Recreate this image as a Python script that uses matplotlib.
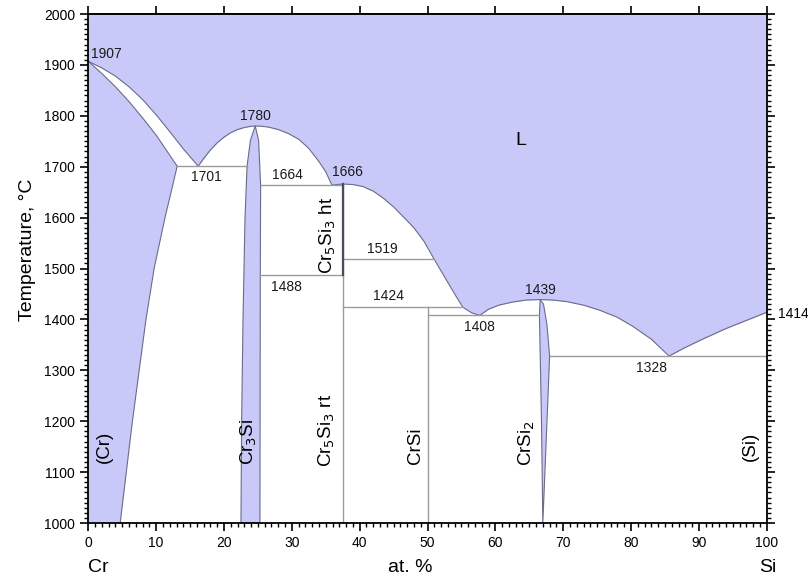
import matplotlib
matplotlib.use('Agg')
import matplotlib.pyplot as plt
import numpy as np

plt.rcParams['font.family'] = ['Liberation Sans', 'DejaVu Sans']

# Cr-Si phase diagram
# liquidus pieces (at.% Si, degC)
liq_cr_x = [0, 2, 4, 6, 8, 10, 12, 14, 16.2]
liq_cr_t = [1907, 1894, 1878, 1857, 1832, 1802, 1769, 1735, 1701]
liq_cr3si_x = [16.2, 17, 18, 19, 20, 21, 22, 23, 24, 24.6, 25.5, 26.5, 28, 29.5, 31, 32.5, 34, 35, 35.9, 37.5]
liq_cr3si_t = [1701, 1716, 1733, 1747, 1758, 1767, 1773, 1777, 1779.5, 1780, 1779.5, 1778, 1773, 1765, 1754, 1736, 1710, 1690, 1664, 1666]
liq_cr5si3_x = [37.5, 39, 40.5, 42, 43.5, 45, 46.4, 48, 49.5, 50.9, 52.8, 54, 55.2, 56.5, 57.7]
liq_cr5si3_t = [1666, 1665, 1661, 1652, 1638, 1621, 1602, 1580, 1553, 1520, 1477, 1450, 1424, 1413, 1408]
liq_crsi2a_x = [57.7, 59.0, 60.5, 62.5, 64.5, 66.6]
liq_crsi2a_t = [1408, 1420, 1428, 1434, 1438, 1439]
liq_crsi2b_x = [66.6, 68.5, 70.5, 73.0, 75.4, 78.0, 80.3, 83.0, 85.6]
liq_crsi2b_t = [1439, 1438, 1435, 1428, 1418, 1404, 1386, 1361, 1328]
liq_si_x = [85.6, 88, 91, 94, 97, 100]
liq_si_t = [1328, 1345, 1364, 1382, 1398, 1414]

# (Cr) solid solution
sol_cr_x = [0, 2, 4, 6, 8, 10, 13.1]
sol_cr_t = [1907, 1883, 1857, 1828, 1796, 1762, 1701]
solv_cr_x = [13.1, 12.2, 11.3, 10.5, 9.7, 8.5, 7.5, 6.5, 5.6, 4.7]
solv_cr_t = [1701, 1650, 1600, 1550, 1500, 1400, 1300, 1200, 1100, 1000]

# Cr3Si lens
cr3si_x = [22.5, 22.6, 22.8, 23.1, 23.4, 23.9, 24.6, 25.1, 25.4, 25.35, 25.3]
cr3si_t = [1000, 1200, 1400, 1600, 1701, 1752, 1780, 1752, 1664, 1488, 1000]

# CrSi2 lens
crsi2_x = [67.0, 66.8, 66.5, 66.6, 67.1, 67.6, 68.0, 67.0]
crsi2_t = [1000, 1200, 1408, 1439, 1430, 1390, 1328, 1000]

# invariant lines: (T, x_start, x_end)
iso_t = [1701, 1664, 1488, 1519, 1424, 1408, 1328]
iso_x0 = [13.1, 25.4, 25.35, 37.5, 37.5, 50.0, 68.0]
iso_x1 = [23.4, 37.5, 37.5, 50.9, 55.2, 66.5, 100.0]

# compound lines
crsi_x = 50.0
crsi_top = 1424
cr5si3_x = 37.5
cr5si3_top = 1666
cr5si3_ht_low = 1488

# temperature labels
tlab_txt = ['1907', '1780', '1701', '1664', '1666', '1519', '1488', '1424', '1408', '1439', '1328']
tlab_x = [0.4, 24.7, 17.4, 29.4, 38.2, 43.3, 29.2, 44.2, 57.7, 66.6, 83.0]
tlab_t = [1907, 1786, 1693, 1669, 1675, 1525, 1478, 1432, 1399, 1445, 1318]
tlab_va = ['bottom', 'bottom', 'top', 'bottom', 'bottom', 'bottom', 'top', 'bottom', 'top', 'bottom', 'top']
tlab_ha = ['left'] + ['center'] * 10

# phase labels
phase_txt = ['(Cr)', 'Cr$_3$Si', 'Cr$_5$Si$_3$ rt', 'Cr$_5$Si$_3$ ht', 'CrSi', 'CrSi$_2$', '(Si)']
phase_x = [2.3, 23.6, 35.2, 35.3, 48.3, 64.7, 97.6]
phase_t = [1149, 1160, 1182, 1566, 1151, 1157, 1150]

blue = '#c9c9f9'
edge = '#6b6b88'
grey = '#9c9c9c'

fig = plt.figure(figsize=(8.08, 5.81), dpi=100)
ax = fig.add_axes([0.1093, 0.0998, 0.8396, 0.8761])

# liquid
liq_x = liq_cr_x + liq_cr3si_x[1:] + liq_cr5si3_x[1:] + liq_crsi2a_x[1:] + liq_crsi2b_x[1:] + liq_si_x[1:]
liq_t = liq_cr_t + liq_cr3si_t[1:] + liq_cr5si3_t[1:] + liq_crsi2a_t[1:] + liq_crsi2b_t[1:] + liq_si_t[1:]
ax.fill_between(liq_x, liq_t, 2000, color=blue, lw=0)
ax.plot(liq_x, liq_t, color=edge, lw=0.8)

# (Cr)
cr_x = [0] + solv_cr_x[::-1] + sol_cr_x[::-1]
cr_t = [1000] + solv_cr_t[::-1] + sol_cr_t[::-1]
ax.fill(cr_x, cr_t, color=blue, lw=0)
ax.plot(sol_cr_x, sol_cr_t, color=edge, lw=0.8)
ax.plot(solv_cr_x, solv_cr_t, color=edge, lw=0.8)

# compounds
ax.fill(cr3si_x, cr3si_t, facecolor=blue, edgecolor=edge, lw=0.8)
ax.fill(crsi2_x, crsi2_t, facecolor=blue, edgecolor=edge, lw=0.8)

for t, a, b in zip(iso_t, iso_x0, iso_x1):
    ax.plot([a, b], [t, t], color=grey, lw=1.0)
ax.plot([crsi_x, crsi_x], [1000, crsi_top], color=grey, lw=1.0)
ax.plot([cr5si3_x, cr5si3_x], [1000, cr5si3_top], color=grey, lw=1.0)
ax.plot([cr5si3_x, cr5si3_x], [cr5si3_ht_low, cr5si3_top], color='#4a4a66', lw=1.6)

for s, x, t, va, ha in zip(tlab_txt, tlab_x, tlab_t, tlab_va, tlab_ha):
    ax.text(x, t, s, fontsize=10, ha=ha, va=va, color='#1a1a1a')
ax.text(101.6, 1410, '1414', fontsize=10, ha='left', va='center', clip_on=False)
ax.text(63.7, 1752, 'L', fontsize=14, ha='center', va='center')

for s, x, t in zip(phase_txt, phase_x, phase_t):
    ax.text(x, t, s, fontsize=13.5, rotation=90, ha='center', va='center')

ax.set_xlim(0, 100)
ax.set_ylim(1000, 2000)
ax.set_xticks(range(0, 101, 10))
ax.set_xticks(range(0, 101, 1), minor=True)
ax.set_yticks(range(1000, 2001, 100))
ax.set_yticks(range(1000, 2001, 10), minor=True)
ax.tick_params(axis='both', which='both', direction='out', labelsize=10)
ax.tick_params(axis='both', which='major', length=6, width=1.2)
ax.tick_params(axis='both', which='minor', length=3, width=1.0)
ax.tick_params(axis='y', which='both', right=True)
for sp in ax.spines.values():
    sp.set_linewidth(1.3)

top = ax.secondary_xaxis('top')
top.set_xticks(range(0, 101, 10))
top.set_xticks(range(0, 101, 1), minor=True)
top.tick_params(which='major', direction='out', length=6, width=1.2, labeltop=False)
top.tick_params(which='minor', direction='in', length=3, width=1.0)
top.spines['top'].set_linewidth(1.3)

ax.text(0, 912, 'Cr', fontsize=14, ha='left', va='center', clip_on=False)
ax.text(47.4, 912, 'at. %', fontsize=14, ha='center', va='center', clip_on=False)
ax.text(100.2, 912, 'Si', fontsize=14, ha='center', va='center', clip_on=False)
fig.text(27 / 808, 1 - 250 / 581, 'Temperature, °C', fontsize=14, rotation=90,
         ha='center', va='center')

fig.savefig('out.png', dpi=100)
